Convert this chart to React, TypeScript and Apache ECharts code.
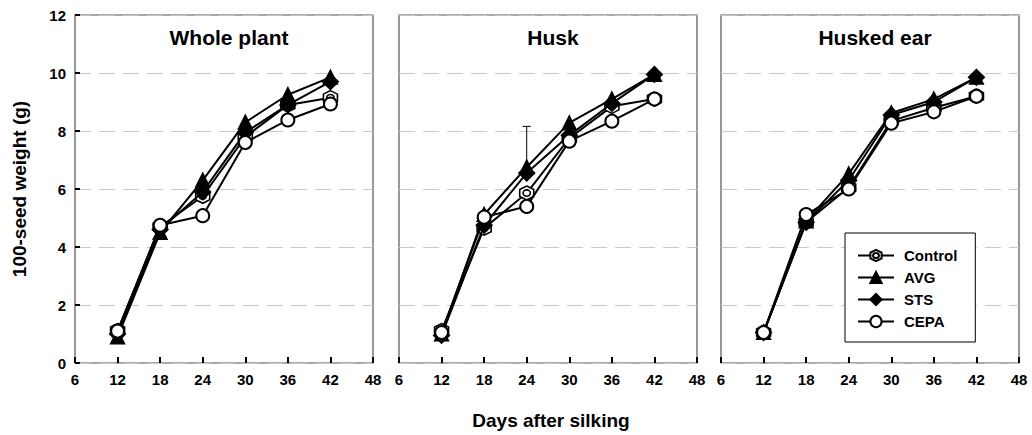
import React, { useEffect, useRef } from "react";
import * as echarts from "echarts";

const days = [12, 18, 24, 30, 36, 42];
const panelTitles = ["Whole plant", "Husk", "Husked ear"];
const seriesNames = ["Control", "AVG", "STS", "CEPA"];

// Whole plant
const wpControl = [1.12, 4.7, 5.75, 7.8, 8.9, 9.15];
const wpAVG = [0.9, 4.5, 6.3, 8.3, 9.25, 9.85];
const wpSTS = [1.0, 4.6, 5.9, 7.95, 8.9, 9.7];
const wpCEPA = [1.1, 4.75, 5.08, 7.6, 8.38, 8.93];

// Husk
const huControl = [1.12, 4.65, 5.86, 7.75, 8.85, 9.1];
const huAVG = [1.0, 5.12, 6.75, 8.28, 9.1, 9.95];
const huSTS = [0.95, 4.75, 6.55, 7.85, 8.95, 9.95];
const huCEPA = [1.05, 5.03, 5.4, 7.65, 8.34, 9.1];
const huErrorX = 24;
const huErrorLow = 6.75;
const huErrorHigh = 8.16;

// Husked ear
const heControl = [1.05, 4.85, 6.05, 8.35, 8.8, 9.2];
const heAVG = [1.05, 4.9, 6.52, 8.62, 9.1, 9.85];
const heSTS = [1.05, 4.85, 6.3, 8.55, 9.0, 9.85];
const heCEPA = [1.05, 5.12, 6.0, 8.27, 8.66, 9.2];

const yTicksMax = 12;
const xMin = 6;
const xMax = 48;

const hexPath =
  "path://M0,-10L8.66,-5L8.66,5L0,10L-8.66,5L-8.66,-5Z M0,-4.5A4.5,4.5 0 1,1 0,4.5A4.5,4.5 0 1,1 0,-4.5Z";

const markerStyles: Record<string, any> = {
  Control: { symbol: hexPath, symbolSize: 14, color: "#fff", bw: 1.6 },
  AVG: { symbol: "triangle", symbolSize: 13, color: "#000", bw: 2 },
  STS: { symbol: "diamond", symbolSize: 15, color: "#000", bw: 2 },
  CEPA: { symbol: "circle", symbolSize: 13, color: "#fff", bw: 2 },
};

const panelData = [
  [wpControl, wpAVG, wpSTS, wpCEPA],
  [huControl, huAVG, huSTS, huCEPA],
  [heControl, heAVG, heSTS, heCEPA],
];

const gridLefts = [75, 399, 721];
const gridWidth = 298;
const gridTop = 15;
const gridHeight = 348;

const FONT = "Liberation Sans, Arial, sans-serif";

export default function App() {
  const ref = useRef<HTMLDivElement>(null);

  useEffect(() => {
    if (!ref.current) return;
    const chart = echarts.init(ref.current, null, { renderer: "svg" });

    const grids = gridLefts.map((l) => ({
      left: l,
      top: gridTop,
      width: gridWidth,
      height: gridHeight,
      show: true,
      borderColor: "#555",
      borderWidth: 1.2,
      backgroundColor: "transparent",
      containLabel: false,
    }));

    const xAxes = gridLefts.map((_, i) => ({
      type: "value",
      gridIndex: i,
      min: xMin,
      max: xMax,
      interval: 6,
      axisLine: { show: false },
      axisTick: { show: true, inside: true, length: 6, lineStyle: { color: "#000", width: 2 } },
      splitLine: { show: false },
      axisLabel: {
        color: "#000",
        fontFamily: FONT,
        fontWeight: "bold",
        fontSize: 15,
        margin: 9,
      },
    }));

    const yAxes = gridLefts.map((_, i) => ({
      type: "value",
      gridIndex: i,
      min: 0,
      max: yTicksMax,
      interval: 2,
      name: i === 0 ? "100-seed weight (g)" : "",
      nameLocation: "middle",
      nameGap: 46,
      nameRotate: 90,
      nameTextStyle: { color: "#000", fontFamily: FONT, fontWeight: "bold", fontSize: 19 },
      axisLine: { show: false },
      axisTick: { show: i === 0, inside: true, length: 5, lineStyle: { color: "#000", width: 2 } },
      splitLine: { show: true, lineStyle: { color: "#c8c8c8", type: [16, 8], width: 1 } },
      axisLabel: {
        show: i === 0,
        color: "#000",
        fontFamily: FONT,
        fontWeight: "bold",
        fontSize: 15,
        margin: 9,
      },
    }));

    const series: any[] = [];
    panelData.forEach((arrs, p) => {
      arrs.forEach((vals, s) => {
        const name = seriesNames[s];
        const m = markerStyles[name];
        series.push({
          type: "line",
          name,
          xAxisIndex: p,
          yAxisIndex: p,
          data: days.map((d, k) => [d, vals[k]]),
          symbol: m.symbol,
          symbolSize: m.symbolSize,
          showAllSymbol: true,
          lineStyle: { color: "#000", width: 2 },
          itemStyle: { color: m.color, borderColor: "#000", borderWidth: m.bw },
          z: 3 + s,
        });
      });
    });

    series.push({
      type: "custom",
      name: "err",
      xAxisIndex: 1,
      yAxisIndex: 1,
      data: [[huErrorX, huErrorLow, huErrorHigh]],
      z: 2,
      renderItem: (params: any, api: any) => {
        const lo = api.coord([api.value(0), api.value(1)]);
        const hi = api.coord([api.value(0), api.value(2)]);
        return {
          type: "group",
          children: [
            { type: "line", shape: { x1: lo[0], y1: lo[1], x2: hi[0], y2: hi[1] }, style: { stroke: "#000", lineWidth: 1 } },
            { type: "line", shape: { x1: hi[0] - 4, y1: hi[1], x2: hi[0] + 4, y2: hi[1] }, style: { stroke: "#000", lineWidth: 1 } },
          ],
        };
      },
    });

    const titles: any[] = panelTitles.map((t, i) => ({
      text: t,
      left: gridLefts[i] + gridWidth / 2,
      top: 22,
      textAlign: "center",
      textStyle: { color: "#000", fontFamily: FONT, fontWeight: "bold", fontSize: 21 },
    }));
    titles.push({
      text: "Days after silking",
      left: 546,
      top: 406,
      textAlign: "center",
      textStyle: { color: "#000", fontFamily: FONT, fontWeight: "bold", fontSize: 19 },
    });

    chart.setOption({
      animation: false,
      backgroundColor: "#fff",
      title: titles,
      grid: grids,
      xAxis: xAxes,
      yAxis: yAxes,
      legend: {
        data: seriesNames,
        orient: "vertical",
        left: 845,
        top: 233,
        itemWidth: 36,
        itemHeight: 14,
        itemGap: 7,
        padding: [15, 18, 13, 12],
        borderColor: "#000",
        borderWidth: 1,
        backgroundColor: "#fff",
        textStyle: {
          color: "#000",
          fontFamily: FONT,
          fontWeight: "bold",
          fontSize: 15,
          padding: [0, 0, 0, 5],
        },
      },
      series,
    });

    return () => chart.dispose();
  }, []);

  return (
    <div
      ref={ref}
      style={{ position: "absolute", left: 0, top: 0, width: 1032, height: 435 }}
    />
  );
}
